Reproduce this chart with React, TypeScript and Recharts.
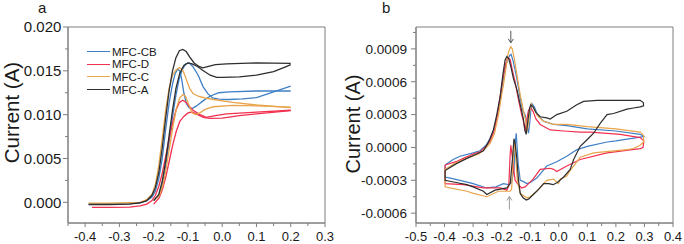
import React from "react";
import { LineChart, Line, XAxis, YAxis, Legend, ReferenceDot, ReferenceArea } from "recharts";

// ---------- panel a: forward / reverse scans, [potential V, current A] ----------
const aCBFwd = [
  [-0.39, -0.0002], [-0.33, -0.0002], [-0.27, -0.00015], [-0.24, -0.00005], [-0.22, 0.0002],
  [-0.205, 0.0006], [-0.195, 0.0013], [-0.185, 0.0027], [-0.175, 0.005], [-0.165, 0.0083],
  [-0.155, 0.0113], [-0.145, 0.0135], [-0.137, 0.0147], [-0.13, 0.0152], [-0.124, 0.015],
  [-0.118, 0.014], [-0.112, 0.0125], [-0.105, 0.0113], [-0.097, 0.0108], [-0.088, 0.0107],
  [-0.075, 0.011], [-0.055, 0.0116], [-0.036, 0.0121], [-0.01, 0.0125], [0.02, 0.0126],
  [0.1, 0.0127], [0.2, 0.0127],
];
const aCBRev = [
  [0.2, 0.01325], [0.15, 0.0126], [0.1, 0.01195], [0.06, 0.0118], [0.02, 0.01173],
  [-0.01, 0.01178], [-0.028, 0.0119], [-0.042, 0.0124], [-0.056, 0.0132], [-0.07, 0.0145],
  [-0.085, 0.01545], [-0.096, 0.0159], [-0.106, 0.0158], [-0.116, 0.0152], [-0.126, 0.014],
  [-0.136, 0.012], [-0.146, 0.0095], [-0.156, 0.0066], [-0.166, 0.0038], [-0.176, 0.0018],
  [-0.186, 0.0007], [-0.2, 0.0002],
];
const aDFwd = [
  [-0.38, -0.00057], [-0.33, -0.00057], [-0.27, -0.00055], [-0.24, -0.0004], [-0.22, -0.0002],
  [-0.205, 0.0002], [-0.195, 0.0008], [-0.185, 0.0018], [-0.175, 0.0033], [-0.165, 0.0052],
  [-0.155, 0.0072], [-0.145, 0.009], [-0.135, 0.0105], [-0.125, 0.0114], [-0.115, 0.01165],
  [-0.105, 0.0114], [-0.095, 0.0109], [-0.085, 0.0105], [-0.065, 0.01], [-0.046, 0.0097],
  [-0.02, 0.0099], [0.013, 0.0101], [0.1, 0.0103], [0.2, 0.0105],
];
const aDRev = [
  [0.2, 0.01045], [0.1, 0.0101], [0.05, 0.0099], [0.0, 0.0096], [-0.036, 0.00957],
  [-0.055, 0.0097], [-0.072, 0.01], [-0.088, 0.0103], [-0.1, 0.0102], [-0.112, 0.0098],
  [-0.124, 0.0092], [-0.134, 0.0081], [-0.144, 0.0066], [-0.154, 0.0048], [-0.164, 0.003],
  [-0.174, 0.0015], [-0.184, 0.0005], [-0.2, -0.0002],
];
const aCFwd = [
  [-0.39, -0.0001], [-0.33, -0.0001], [-0.27, -0.00005], [-0.24, 0.0], [-0.22, 0.0003],
  [-0.205, 0.0009], [-0.195, 0.002], [-0.185, 0.0042], [-0.175, 0.0073], [-0.165, 0.0105],
  [-0.155, 0.013], [-0.145, 0.0145], [-0.135, 0.0151], [-0.125, 0.01535], [-0.117, 0.0152],
  [-0.11, 0.0146], [-0.103, 0.0138], [-0.095, 0.013], [-0.085, 0.0124], [-0.07, 0.0121],
  [-0.05, 0.0119], [-0.02, 0.0117], [0.03, 0.0114], [0.1, 0.0111], [0.2, 0.0108],
];
const aCRev = [
  [0.2, 0.01085], [0.1, 0.011], [0.03, 0.01105], [-0.026, 0.0109], [-0.05, 0.0106],
  [-0.065, 0.0102], [-0.078, 0.01], [-0.088, 0.0102], [-0.098, 0.0112], [-0.107, 0.0121],
  [-0.115, 0.0123], [-0.124, 0.0119], [-0.133, 0.0108], [-0.143, 0.0088], [-0.153, 0.0064],
  [-0.163, 0.004], [-0.173, 0.002], [-0.183, 0.0008], [-0.2, 0.0002],
];
const aAFwd = [
  [-0.39, -0.00025], [-0.33, -0.00025], [-0.27, -0.0002], [-0.24, -0.00005], [-0.22, 0.0002],
  [-0.205, 0.0008], [-0.195, 0.0017], [-0.185, 0.0034], [-0.175, 0.0062], [-0.165, 0.0096],
  [-0.155, 0.0127], [-0.145, 0.015], [-0.135, 0.0165], [-0.125, 0.0173], [-0.115, 0.01745],
  [-0.105, 0.0172], [-0.095, 0.0166], [-0.082, 0.0159], [-0.068, 0.0155], [-0.056, 0.01535],
  [-0.04, 0.0155], [-0.02, 0.0157], [0.013, 0.0158], [0.1, 0.0159], [0.2, 0.01585],
];
const aARev = [
  [0.2, 0.0157], [0.185, 0.01545], [0.15, 0.0149], [0.1, 0.0145], [0.05, 0.0143],
  [0.0, 0.01425], [-0.016, 0.01425], [-0.035, 0.0145], [-0.055, 0.015], [-0.072, 0.0155],
  [-0.088, 0.0158], [-0.1, 0.0159], [-0.112, 0.0156], [-0.124, 0.0147], [-0.135, 0.013],
  [-0.145, 0.0105], [-0.155, 0.0076], [-0.165, 0.0047], [-0.175, 0.0024], [-0.185, 0.0009],
  [-0.2, 0.0002],
];

// ---------- panel b: closed CV loops ----------
const bCB = [
  [-0.398, -0.00016], [-0.37, -0.00011], [-0.346, -0.00008], [-0.3, -0.00005], [-0.276, -0.00003],
  [-0.255, 0.00002], [-0.24, 0.00008], [-0.225, 0.00018], [-0.211, 0.00035], [-0.2, 0.00052],
  [-0.19, 0.0007], [-0.18, 0.0008], [-0.172, 0.00084], [-0.167, 0.00085], [-0.16, 0.00079],
  [-0.147, 0.00063], [-0.135, 0.00045], [-0.125, 0.00033], [-0.118, 0.0003], [-0.112, 0.00022],
  [-0.106, 0.00013], [-0.101, 0.00024], [-0.097, 0.00036], [-0.094, 0.0004], [-0.085, 0.00037],
  [-0.075, 0.0003], [-0.054, 0.00024], [-0.018, 0.00021], [0.028, 0.0002], [0.1, 0.00017],
  [0.2, 0.00015], [0.285, 0.00012], [0.297, 0.0001],
  [0.285, 0.000095], [0.2, 0.00006], [0.169, 0.00005], [0.1, 0.00001], [0.064, -0.00002],
  [0.052, -0.00004], [0.028, -0.00008], [-0.007, -0.00013], [-0.042, -0.00017], [-0.077, -0.00028],
  [-0.1, -0.00032], [-0.112, -0.00033], [-0.125, -0.00031], [-0.135, -0.0003], [-0.142, -0.00015],
  [-0.147, 0.00005], [-0.149, 0.00013], [-0.152, 0.00005], [-0.157, -0.0002], [-0.165, -0.00032],
  [-0.176, -0.00034], [-0.194, -0.00033], [-0.22, -0.00036], [-0.252, -0.00037], [-0.3, -0.00033],
  [-0.346, -0.0003], [-0.38, -0.00028], [-0.398, -0.00027], [-0.398, -0.00016],
];
const bD = [
  [-0.398, -0.00016], [-0.36, -0.00013], [-0.334, -0.0001], [-0.3, -0.00006], [-0.276, -0.00004],
  [-0.255, 0.00001], [-0.24, 0.00006], [-0.225, 0.00016], [-0.211, 0.00036], [-0.2, 0.00056],
  [-0.19, 0.00072], [-0.182, 0.0008], [-0.176, 0.00082], [-0.17, 0.0008], [-0.162, 0.0007],
  [-0.153, 0.0006], [-0.14, 0.00042], [-0.13, 0.0003], [-0.124, 0.00024], [-0.118, 0.00015],
  [-0.113, 0.00024], [-0.107, 0.00033], [-0.1, 0.00037], [-0.09, 0.00033], [-0.08, 0.00026],
  [-0.065, 0.00021], [-0.03, 0.00016], [0.017, 0.00015], [0.075, 0.00014], [0.11, 0.00014],
  [0.215, 0.00012], [0.285, 0.00009], [0.298, 0.00006],
  [0.295, 0.0], [0.285, -0.00001], [0.169, -0.00005], [0.075, -0.00011], [0.052, -0.00014],
  [0.028, -0.00017], [-0.007, -0.00022], [-0.018, -0.0002], [-0.03, -0.00019], [-0.065, -0.0002],
  [-0.09, -0.00029], [-0.106, -0.00033], [-0.118, -0.00036], [-0.13, -0.00037], [-0.142, -0.00034],
  [-0.153, -0.0003], [-0.162, -0.0001], [-0.168, 0.00002], [-0.171, -0.0001], [-0.175, -0.00035],
  [-0.182, -0.00039], [-0.205, -0.00037], [-0.264, -0.00037], [-0.334, -0.00034], [-0.398, -0.00033],
  [-0.398, -0.00016],
];
const bC = [
  [-0.398, -0.0002], [-0.36, -0.00014], [-0.322, -0.0001], [-0.28, -0.00006], [-0.26, -0.00002],
  [-0.24, 0.00004], [-0.225, 0.00013], [-0.211, 0.0003], [-0.2, 0.00048], [-0.194, 0.00057],
  [-0.185, 0.00072], [-0.178, 0.00085], [-0.172, 0.0009], [-0.168, 0.00092], [-0.163, 0.0009],
  [-0.155, 0.0008], [-0.147, 0.00067], [-0.135, 0.00048], [-0.125, 0.00035], [-0.116, 0.00025],
  [-0.11, 0.00015], [-0.105, 0.00025], [-0.1, 0.00036], [-0.097, 0.0004], [-0.088, 0.00036],
  [-0.075, 0.00029], [-0.054, 0.00024], [-0.018, 0.00021], [0.028, 0.00021], [0.1, 0.00019],
  [0.2, 0.00017], [0.285, 0.00014], [0.297, 0.00011],
  [0.297, 0.00005], [0.285, 0.00002], [0.262, -0.00001], [0.239, -0.00002], [0.122, -0.00005],
  [0.075, -0.00009], [0.052, -0.00017], [0.04, -0.00021], [0.028, -0.00026], [0.005, -0.00029],
  [-0.001, -0.00033], [-0.018, -0.00029], [-0.042, -0.0003], [-0.077, -0.0004], [-0.1, -0.00045],
  [-0.112, -0.00046], [-0.135, -0.00042], [-0.145, -0.0003], [-0.152, -0.00005], [-0.156, 0.00005],
  [-0.16, -0.0001], [-0.165, -0.00038], [-0.17, -0.0004], [-0.2, -0.0004], [-0.211, -0.0004],
  [-0.252, -0.00045], [-0.299, -0.00042], [-0.322, -0.0004], [-0.381, -0.00037], [-0.398, -0.00036],
  [-0.398, -0.0002],
];
const bA = [
  [-0.398, -0.00021], [-0.36, -0.00015], [-0.322, -0.0001], [-0.28, -0.00005], [-0.264, -0.00003],
  [-0.25, 0.00003], [-0.241, 0.00008], [-0.229, 0.00016], [-0.217, 0.0003], [-0.205, 0.00047],
  [-0.195, 0.00068], [-0.188, 0.0008], [-0.182, 0.00083], [-0.175, 0.00081], [-0.167, 0.00073],
  [-0.159, 0.00063], [-0.147, 0.00053], [-0.135, 0.00039], [-0.124, 0.00026], [-0.118, 0.00015],
  [-0.114, 0.00012], [-0.108, 0.00025], [-0.102, 0.00036], [-0.098, 0.00039], [-0.09, 0.00037],
  [-0.08, 0.00032], [-0.065, 0.00028], [-0.042, 0.00027], [-0.03, 0.00026], [-0.007, 0.0003],
  [0.028, 0.00033], [0.063, 0.00039], [0.087, 0.00042], [0.134, 0.00043], [0.2, 0.00043],
  [0.285, 0.00043], [0.296, 0.00041], [0.297, 0.00038],
  [0.285, 0.00037], [0.262, 0.00036], [0.239, 0.00035], [0.192, 0.00031], [0.169, 0.0003],
  [0.145, 0.00022], [0.122, 0.00013], [0.099, 0.00007], [0.075, 0.00001], [0.052, -0.00011],
  [0.04, -0.0002], [0.017, -0.00027], [-0.005, -0.00032], [-0.02, -0.00034], [-0.035, -0.00033],
  [-0.053, -0.00033], [-0.07, -0.00038], [-0.089, -0.00043], [-0.105, -0.00047], [-0.114, -0.00048],
  [-0.125, -0.00046], [-0.135, -0.00042], [-0.141, -0.0003], [-0.147, -0.0001], [-0.153, 0.00004],
  [-0.157, 0.00008], [-0.162, -0.0001], [-0.17, -0.00033], [-0.182, -0.00037], [-0.205, -0.00038],
  [-0.223, -0.00039], [-0.252, -0.00043], [-0.264, -0.0004], [-0.3, -0.00036], [-0.322, -0.00034],
  [-0.36, -0.00032], [-0.398, -0.0003], [-0.398, -0.00021],
];

// ---------- ticks ----------
const aXTicks = [-0.45, -0.4, -0.35, -0.3, -0.25, -0.2, -0.15, -0.1, -0.05, 0, 0.05, 0.1, 0.15, 0.2, 0.25, 0.3];
const aYTicks = [0, 0.0025, 0.005, 0.0075, 0.01, 0.0125, 0.015, 0.0175, 0.02];
const bXTicks = [-0.5, -0.45, -0.4, -0.35, -0.3, -0.25, -0.2, -0.15, -0.1, -0.05, 0, 0.05, 0.1, 0.15, 0.2, 0.25, 0.3, 0.35, 0.4];
const bYTicks = [-0.0006, -0.00045, -0.0003, -0.00015, 0, 0.00015, 0.0003, 0.00045, 0.0006, 0.00075, 0.0009, 0.00105];

const seriesNames = ["MFC-CB", "MFC-D", "MFC-C", "MFC-A"];
const seriesColors = ["#3f7fc6", "#f2304f", "#e8a54c", "#2e2e2e"];

const AXIS = "#7f7f7f";
const TXT = "#1a1a1a";

const pts = (arr: number[][]) => arr.map(([x, y]) => ({ x, y }));
const isMajor = (v: number, step: number) => Math.abs(v / step - Math.round(v / step)) < 1e-6;
const fmt = (v: number, d: number) => (Math.abs(v) < 1e-12 ? 0 : v).toFixed(d);

const xTick = (step: number, digits: number, fs: number, maj: number, min: number) => (p: any) => {
  const major = isMajor(p.payload.value, step);
  return (
    <g>
      <line x1={p.x} x2={p.x} y1={p.y} y2={p.y + (major ? maj : min)} stroke={AXIS} />
      {major && (
        <text x={p.x} y={p.y + 18.4} textAnchor="middle" fontSize={fs} fill={TXT}>
          {fmt(p.payload.value, digits)}
        </text>
      )}
    </g>
  );
};

const yTick = (step: number, digits: number, fs: number, gap: number, maj: number, min: number) => (p: any) => {
  const major = isMajor(p.payload.value, step);
  return (
    <g>
      <line x1={p.x - (major ? maj : min)} x2={p.x} y1={p.y} y2={p.y} stroke={AXIS} />
      {major && (
        <text x={p.x - gap} y={p.y + fs * 0.355} textAnchor="end" fontSize={fs} fill={TXT}>
          {fmt(p.payload.value, digits)}
        </text>
      )}
    </g>
  );
};

const yLabel = (x: number, y: number, fs: number) => () => (
  <text x={x} y={y} transform={`rotate(-90 ${x} ${y})`} textAnchor="middle" dominantBaseline="central" fontSize={fs} fill={TXT}>
    Current (A)
  </text>
);

const legendContent = () => (
  <div style={{ fontSize: 11.5, color: TXT }}>
    {seriesNames.map((n, i) => (
      <div key={n} style={{ display: "flex", alignItems: "center", height: 12.6 }}>
        <span style={{ display: "inline-block", width: 23, borderTop: `1.4px solid ${seriesColors[i]}`, marginRight: 2 }} />
        <span>{n}</span>
      </div>
    ))}
  </div>
);

const arrowDown = (p: any) => (
  <g>
    <line x1={p.cx} x2={p.cx} y1={p.cy - 12} y2={p.cy} stroke="#555" strokeWidth={1} />
    <path d={`M${p.cx - 2.5},${p.cy - 4} L${p.cx},${p.cy} L${p.cx + 2.5},${p.cy - 4}`} fill="none" stroke="#555" />
  </g>
);
const arrowUp = (p: any) => (
  <g>
    <line x1={p.cx} x2={p.cx} y1={p.cy} y2={p.cy + 13} stroke="#999" strokeWidth={1} />
    <path d={`M${p.cx - 2.5},${p.cy + 4} L${p.cx},${p.cy} L${p.cx + 2.5},${p.cy + 4}`} fill="none" stroke="#999" />
  </g>
);

const aLines = [
  [aCBFwd, aCBRev], [aDFwd, aDRev], [aCFwd, aCRev], [aAFwd, aARev],
];
const bLines = [bCB, bD, bC, bA];

export default function App() {
  const aXDomain = [-0.45, 0.3];
  const aYDomain = [-0.00236, 0.02];
  const bXDomain = [-0.5, 0.4];
  const bYDomain = [-0.00069, 0.0011];
  const axLine = { stroke: AXIS, strokeWidth: 1 };
  return (
    <div
      style={{
        position: "absolute", left: 0, top: 0, width: 684, height: 244, background: "#fff",
        fontFamily: "'Liberation Sans', Arial, sans-serif",
      }}
    >
      <div style={{ position: "absolute", left: 38, top: 0, fontSize: 15, lineHeight: "15px", color: TXT }}>a</div>
      <div style={{ position: "absolute", left: 382, top: 0, fontSize: 15, lineHeight: "15px", color: TXT }}>b</div>

      <div style={{ position: "absolute", left: 0, top: 0 }}>
        <LineChart width={342} height={244} margin={{ top: 27, right: 17, bottom: 0, left: 0 }}>
          <XAxis dataKey="x" type="number" domain={aXDomain} ticks={aXTicks} interval={0} height={21}
            allowDataOverflow axisLine={axLine} tickSize={0} tickMargin={0} tickLine={false}
            tick={xTick(0.1, 1, 13, 4, 3)} />
          <YAxis type="number" domain={aYDomain} ticks={aYTicks} interval={0} width={68}
            allowDataOverflow axisLine={axLine} tickSize={0} tickMargin={0} tickLine={false}
            tick={yTick(0.005, 3, 15, 6.6, 5, 3)} label={{ content: yLabel(11, 112.5, 20.5) }} />
          <ReferenceArea x1={aXDomain[0]} x2={aXDomain[1]} y1={aYDomain[0]} y2={aYDomain[1]}
            fill="none" fillOpacity={0} stroke={AXIS} strokeWidth={1} />
          <Legend layout="vertical" align="center" verticalAlign="middle" content={legendContent}
            wrapperStyle={{ left: 87, top: 45.5, width: "auto" }} />
          {aLines.map((pair, i) =>
            pair.map((d, j) => (
              <Line key={`a${i}-${j}`} data={pts(d)} dataKey="y" type="linear" stroke={seriesColors[i]}
                strokeWidth={1.3} dot={false} isAnimationActive={false} legendType="none"
                name={seriesNames[i]} />
            ))
          )}
        </LineChart>
      </div>

      <div style={{ position: "absolute", left: 342, top: 0 }}>
        <LineChart width={342} height={244} margin={{ top: 27, right: 11, bottom: 0, left: 0 }}>
          <XAxis dataKey="x" type="number" domain={bXDomain} ticks={bXTicks} interval={0} height={21}
            allowDataOverflow axisLine={axLine} tickSize={0} tickMargin={0} tickLine={false}
            tick={xTick(0.1, 1, 13, 4, 3)} />
          <YAxis type="number" domain={bYDomain} ticks={bYTicks} interval={0} width={74}
            allowDataOverflow axisLine={axLine} tickSize={0} tickMargin={0} tickLine={false}
            tick={yTick(0.0003, 4, 13.6, 9, 5, 3)} label={{ content: yLabel(11, 124, 20) }} />
          <ReferenceArea x1={bXDomain[0]} x2={bXDomain[1]} y1={bYDomain[0]} y2={bYDomain[1]}
            fill="none" fillOpacity={0} stroke={AXIS} strokeWidth={1} />
          {bLines.map((d, i) => (
            <Line key={`b${i}`} data={pts(d)} dataKey="y" type="linear" stroke={seriesColors[i]}
              strokeWidth={1.2} dot={false} isAnimationActive={false} name={seriesNames[i]} />
          ))}
          <ReferenceDot x={-0.168} y={0.000955} r={0} shape={arrowDown} />
          <ReferenceDot x={-0.173} y={-0.000448} r={0} shape={arrowUp} />
        </LineChart>
      </div>
    </div>
  );
}
